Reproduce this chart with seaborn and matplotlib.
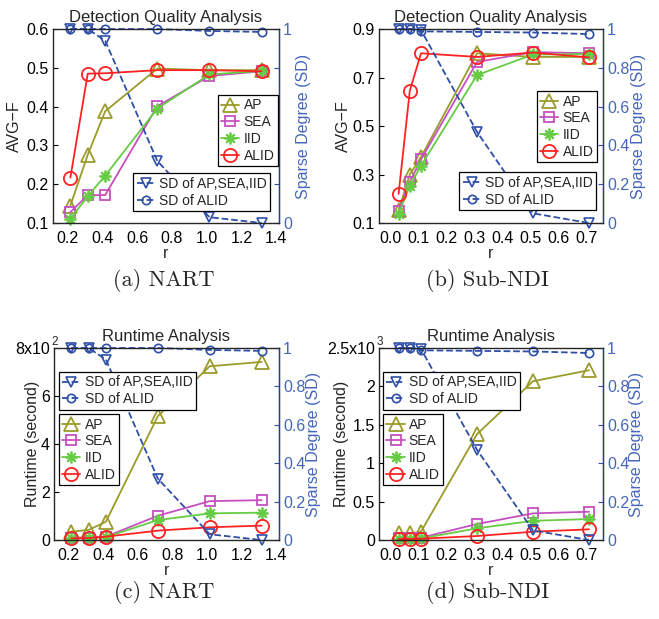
import matplotlib
matplotlib.use('Agg')  # no display
import matplotlib.pyplot as plt
import matplotlib.transforms as mtransforms
import seaborn as sns

# x values (r) for the two datasets
r_nart = [0.2, 0.3, 0.4, 0.7, 1.0, 1.3]
r_ndi = [0.02, 0.06, 0.1, 0.3, 0.5, 0.7]

# detection quality (AVG-F), NART
f_nart_ap = [0.145, 0.276, 0.388, 0.498, 0.494, 0.494]
f_nart_sea = [0.128, 0.172, 0.172, 0.401, 0.479, 0.491]
f_nart_iid = [0.111, 0.169, 0.222, 0.395, 0.483, 0.492]
f_nart_alid = [0.217, 0.485, 0.486, 0.494, 0.494, 0.491]

# detection quality (AVG-F), Sub-NDI
f_ndi_ap = [0.152, 0.300, 0.372, 0.800, 0.785, 0.785]
f_ndi_sea = [0.148, 0.270, 0.362, 0.764, 0.805, 0.800]
f_ndi_iid = [0.137, 0.254, 0.336, 0.710, 0.795, 0.797]
f_ndi_alid = [0.220, 0.645, 0.800, 0.785, 0.803, 0.783]

# runtime in seconds, NART
t_nart_ap = [35, 42, 76, 516, 724, 742]
t_nart_sea = [10, 10, 14, 101, 162, 166]
t_nart_iid = [7, 8, 12, 83, 111, 114]
t_nart_alid = [7, 8, 14, 39, 53, 60]

# runtime in seconds, Sub-NDI
t_ndi_ap = [87, 87, 108, 1378, 2067, 2210]
t_ndi_sea = [20, 20, 30, 208, 347, 368]
t_ndi_iid = [15, 15, 20, 152, 250, 273]
t_ndi_alid = [13, 13, 17, 52, 108, 139]

# sparse degree
sd_nart_base = [1.0, 1.0, 0.94, 0.32, 0.03, 0.0]
sd_nart_alid = [1.0, 1.0, 1.0, 1.0, 0.99, 0.985]
sd_ndi_base = [1.0, 1.0, 0.995, 0.47, 0.05, 0.0]
sd_ndi_alid = [1.0, 1.0, 0.988, 0.985, 0.982, 0.974]

methods = ["AP", "SEA", "IID", "ALID"]
sd_labels = ["SD of AP,SEA,IID", "SD of ALID"]

COLORS = {"AP": "#9b9b2a", "SEA": "#c64fc0", "IID": "#66cc44", "ALID": "#ff2222"}
MARKERS = {"AP": ("^", 10.5), "SEA": ("s", 7.5), "IID": ((8, 2, 0), 8.5), "ALID": ("o", 9.5)}
SD_BLUE = "#2f4fa6"
LABEL_BLUE = "#4466bb"

sns.set_style("white")
plt.rcParams['font.family'] = ['Liberation Sans', 'DejaVu Sans']
plt.rcParams['legend.fancybox'] = False
plt.rcParams['legend.edgecolor'] = 'black'
plt.rcParams['legend.framealpha'] = 1.0

fig = plt.figure(figsize=(6.59, 6.19), dpi=100)


def draw_panel(rect, x, series, sd_base, sd_alid, title, ylabel, ylim, yticks, yticklabels,
               xlim, xticks, xticklabels, exp_text, sd_ticklabels, label_x, leg_methods, leg_sd):
    ax = fig.add_axes(rect)
    for name, vals in zip(methods, series):
        m, ms = MARKERS[name]
        sns.lineplot(x=x, y=vals, ax=ax, color=COLORS[name], lw=1.3, marker=m, ms=ms,
                     markerfacecolor='none', markeredgecolor=COLORS[name], markeredgewidth=1.3,
                     label=name, clip_on=False, legend=False)
    ax.set_xlim(*xlim)
    ax.set_ylim(*ylim)
    ax.set_xticks(xticks)
    ax.set_xticklabels(xticklabels)
    ax.set_yticks(yticks)
    ax.set_yticklabels(yticklabels)
    ax.tick_params(direction='in', length=3.5, labelsize=11.5, pad=3, colors='black')
    ax.tick_params(axis='x', pad=6)
    # MATLAB draws x tick labels a touch left of the tick
    shift = mtransforms.ScaledTranslation(-2 / 72, 0, fig.dpi_scale_trans)
    for lab in ax.get_xticklabels():
        lab.set_transform(lab.get_transform() + shift)
    ax.set_title(title, fontsize=12, pad=5)
    ax.set_xlabel("r", fontsize=11.5, labelpad=0)
    ax.set_ylabel(ylabel, fontsize=11.5)
    ax.yaxis.set_label_coords(label_x[0], 0.5)
    for s in ax.spines.values():
        s.set_color('black')
        s.set_linewidth(0.9)
    if exp_text:
        ax.text(-0.01, 1.0, exp_text, transform=ax.transAxes, fontsize=8.5,
                ha='left', va='bottom')

    ax2 = ax.twinx()
    sns.lineplot(x=x, y=sd_base, ax=ax2, color=SD_BLUE, lw=1.3, ls='--', marker='v', ms=6.5,
                 markerfacecolor='none', markeredgecolor=SD_BLUE, markeredgewidth=1.2,
                 label=sd_labels[0], clip_on=False, legend=False)
    sns.lineplot(x=x, y=sd_alid, ax=ax2, color=SD_BLUE, lw=1.3, ls='--', marker='o', ms=6,
                 markerfacecolor='none', markeredgecolor=SD_BLUE, markeredgewidth=1.2,
                 label=sd_labels[1], clip_on=False, legend=False)
    ax2.set_ylim(0, 1)
    ax2.set_yticks([0, 0.2, 0.4, 0.6, 0.8, 1.0])
    ax2.set_yticklabels(sd_ticklabels)
    ax2.tick_params(direction='in', length=3.5, labelsize=11.5, pad=3,
                    labelcolor=LABEL_BLUE, color=SD_BLUE)
    ax2.set_ylabel("Sparse Degree (SD)", fontsize=11.5, color=LABEL_BLUE)
    ax2.yaxis.set_label_coords(label_x[1], 0.5)
    ax2.spines['right'].set_color('#2a3f80')
    ax2.spines['right'].set_linewidth(0.9)

    leg_kw = dict(fontsize=10, handlelength=1.3, handletextpad=0.3, borderpad=0.25,
                  labelspacing=0.2, borderaxespad=0.0, numpoints=1)
    h1, l1 = ax.get_legend_handles_labels()
    h2, l2 = ax2.get_legend_handles_labels()
    lm = ax2.legend(h1, l1, loc=leg_methods[0], bbox_to_anchor=leg_methods[1], **leg_kw)
    lm.get_frame().set_linewidth(0.9)
    ax2.add_artist(lm)
    ls_ = ax2.legend(h2, l2, loc=leg_sd[0], bbox_to_anchor=leg_sd[1], **leg_kw)
    ls_.get_frame().set_linewidth(0.9)
    return ax, ax2


nart_xticks = [0.2, 0.4, 0.6, 0.8, 1.0, 1.2, 1.4]
nart_xlabels = ["0.2", "0.4", "0.6", "0.8", "1.0", "1.2", "1.4"]
ndi_xticks = [0.0, 0.1, 0.2, 0.3, 0.4, 0.5, 0.6, 0.7]
ndi_xlabels = ["0.0", "0.1", "0.2", "0.3", "0.4", "0.5", "0.6", "0.7"]
sd_full = ["0", "0.2", "0.4", "0.6", "0.8", "1"]
sd_ends = ["0", "", "", "", "", "1"]

draw_panel([0.0804, 0.6397, 0.343, 0.3134], r_nart,
           [f_nart_ap, f_nart_sea, f_nart_iid, f_nart_alid], sd_nart_base, sd_nart_alid,
           "Detection Quality Analysis", "AVG\u2212F", (0.1, 0.6),
           [0.1, 0.2, 0.3, 0.4, 0.5, 0.6], ["0.1", "0.2", "0.3", "0.4", "0.5", "0.6"],
           (0.1, 1.4), nart_xticks, nart_xlabels, None, sd_ends, (-0.139, 1.073),
           ("upper right", (0.995, 0.66)), ("lower right", (0.96, 0.062)))

draw_panel([0.5751, 0.6397, 0.3399, 0.3134], r_ndi,
           [f_ndi_ap, f_ndi_sea, f_ndi_iid, f_ndi_alid], sd_ndi_base, sd_ndi_alid,
           "Detection Quality Analysis", "AVG\u2212F", (0.1, 0.9),
           [0.1, 0.3, 0.5, 0.7, 0.9], ["0.1", "0.3", "0.5", "0.7", "0.9"],
           (-0.05, 0.75), ndi_xticks, ndi_xlabels, None, sd_full, (-0.123, 1.123),
           ("upper right", (0.973, 0.68)), ("lower right", (0.97, 0.067)))

draw_panel([0.0819, 0.1276, 0.3414, 0.3102], r_nart,
           [t_nart_ap, t_nart_sea, t_nart_iid, t_nart_alid], sd_nart_base, sd_nart_alid,
           "Runtime Analysis", "Runtime (second)", (0, 800),
           [0, 200, 400, 600, 800], ["0", "2", "4", "6", "8x10"],
           (0.1, 1.4), nart_xticks, nart_xlabels, "2", sd_full, (-0.064, 1.118),
           ("upper left", (0.022, 0.656)), ("upper left", (0.022, 0.875)))

draw_panel([0.5751, 0.1276, 0.3399, 0.3102], r_ndi,
           [t_ndi_ap, t_ndi_sea, t_ndi_iid, t_ndi_alid], sd_ndi_base, sd_ndi_alid,
           "Runtime Analysis", "Runtime (second)", (0, 2500),
           [0, 500, 1000, 1500, 2000, 2500], ["0", "0.5", "1", "1.5", "2", "2.5x10"],
           (-0.05, 0.75), ndi_xticks, ndi_xlabels, "3", sd_full, (-0.136, 1.118),
           ("upper left", (0.018, 0.656)), ("upper left", (0.018, 0.875)))

# sub-figure captions
cap_kw = dict(fontsize=16, family='cmr10', ha='center', va='center')
fig.text(164 / 659, 1 - 281 / 619, "(a) NART", **cap_kw)
fig.text(488 / 659, 1 - 281 / 619, "(b) Sub-NDI", **cap_kw)
fig.text(164 / 659, 1 - 592 / 619, "(c) NART", **cap_kw)
fig.text(488 / 659, 1 - 592 / 619, "(d) Sub-NDI", **cap_kw)

fig.savefig("out.png", dpi=100)
plt.close(fig)
